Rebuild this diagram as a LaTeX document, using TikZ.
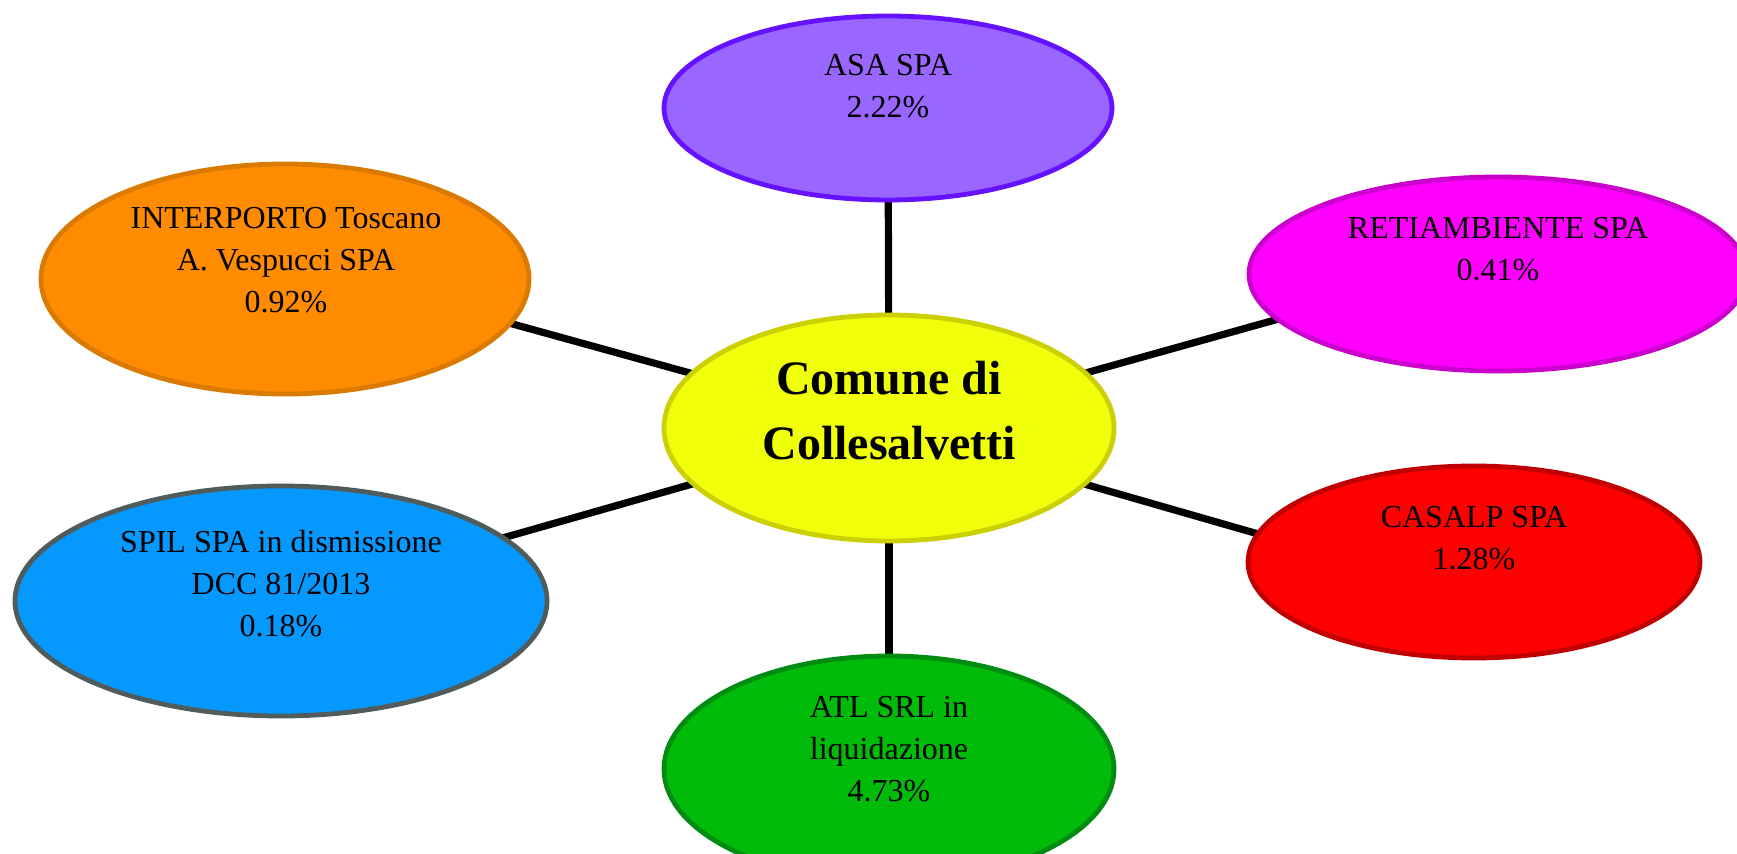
\documentclass[tikz,border=0pt]{standalone}
\usepackage{fontspec}
\setmainfont{Liberation Serif}
\usepackage{xcolor}
\usetikzlibrary{shapes.geometric,backgrounds}

\definecolor{comfill}{RGB}{240,255,10}
\definecolor{comline}{RGB}{204,208,0}
\definecolor{asafill}{RGB}{153,102,255}
\definecolor{asaline}{RGB}{102,17,255}
\definecolor{retifill}{RGB}{255,0,255}
\definecolor{retiline}{RGB}{204,0,204}
\definecolor{casalpfill}{RGB}{255,0,0}
\definecolor{casalpline}{RGB}{192,0,0}
\definecolor{atlfill}{RGB}{0,187,10}
\definecolor{atlline}{RGB}{0,140,16}
\definecolor{spilfill}{RGB}{5,153,255}
\definecolor{spilline}{RGB}{80,92,92}
\definecolor{interfill}{RGB}{255,140,0}
\definecolor{interline}{RGB}{218,122,0}

\begin{document}
\begin{tikzpicture}[x=0.5pt,y=0.5pt,yscale=-1,
  ent/.style={ellipse, line width=2.4pt, inner sep=0pt},
  txt/.style={align=center, inner sep=0pt, font=\fontsize{16}{21}\selectfont},
  spoke/.style={line width=3.6pt, black}]
  %set diagram frame: 1737 x 854
  \path[use as bounding box, clip] (0,0) rectangle (1737,854);

  %Shape: Ellipse [centre]
  \node[ent, fill=comfill, draw=comline, minimum width=225pt, minimum height=113pt] (com) at (889,428) {};
  \node[align=center, inner sep=0pt, font=\fontsize{24}{32.5}\selectfont\bfseries] (com-txt) at (889,411) {Comune di\\Collesalvetti};

  %Shape: Ellipse [top]
  \node[ent, fill=asafill, draw=asaline, minimum width=224pt, minimum height=92pt] (asa) at (888,108) {};
  \node[txt] (asa-txt) at (888,86) {ASA SPA\\2.22\%};

  %Shape: Ellipse [upper right]
  \node[ent, fill=retifill, draw=retiline, minimum width=249pt, minimum height=97pt] (reti) at (1498,274) {};
  \node[txt] (reti-txt) at (1498,249) {RETIAMBIENTE SPA\\0.41\%};

  %Shape: Ellipse [lower right]
  \node[ent, fill=casalpfill, draw=casalpline, minimum width=226pt, minimum height=96pt] (casalp) at (1474,562) {};
  \node[txt] (casalp-txt) at (1474,538) {CASALP SPA\\1.28\%};

  %Shape: Ellipse [bottom]
  \node[ent, fill=atlfill, draw=atlline, minimum width=225pt, minimum height=113pt] (atl) at (889,769) {};
  \node[txt] (atl-txt) at (889,749) {ATL SRL in\\liquidazione\\4.73\%};

  %Shape: Ellipse [lower left]
  \node[ent, fill=spilfill, draw=spilline, minimum width=266pt, minimum height=115pt] (spil) at (281,601) {};
  \node[txt] (spil-txt) at (281,584) {SPIL SPA in dismissione\\DCC 81/2013\\0.18\%};

  %Shape: Ellipse [upper left]
  \node[ent, fill=interfill, draw=interline, minimum width=244pt, minimum height=115pt] (inter) at (285,279) {};
  \node[txt] (inter-txt) at (286,260) {INTERPORTO Toscano\\A. Vespucci SPA\\0.92\%};

  %Straight Lines [spokes, behind the ellipses]
  \coordinate (reti-end) at (1300,313);
  \coordinate (casalp-end) at (1300,546);
  \coordinate (spil-end) at (450,553);
  \coordinate (inter-end) at (480,315);
  \begin{scope}[on background layer]
    \draw[spoke] (com.center) -- (asa.center);
    \draw[spoke] (com.center) -- (reti-end);
    \draw[spoke] (com.center) -- (casalp-end);
    \draw[spoke] (com.center) -- (atl.center);
    \draw[spoke] (com.center) -- (spil-end);
    \draw[spoke] (com.center) -- (inter-end);
  \end{scope}

\end{tikzpicture}
\end{document}
